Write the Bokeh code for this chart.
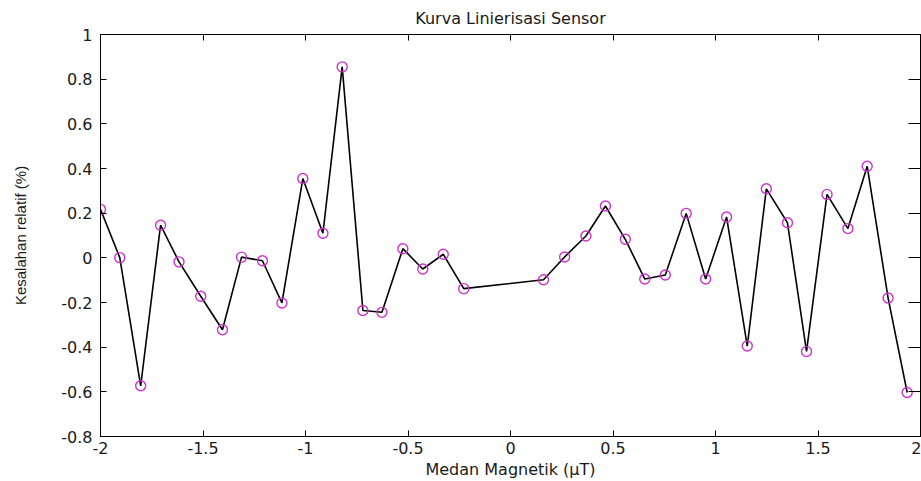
from bokeh.plotting import figure
from bokeh.models import LinearAxis, FixedTicker, Range1d
from bokeh.embed import file_html
from bokeh.resources import INLINE

# Data
medan = [-2.00, -1.906, -1.804, -1.707, -1.617, -1.511, -1.405, -1.312, -1.21, -1.115,
         -1.013, -0.915, -0.821, -0.720, -0.627, -0.525, -0.428, -0.328, -0.228,
         0.161, 0.264, 0.368, 0.463, 0.560, 0.655, 0.755, 0.857, 0.952, 1.054,
         1.155, 1.248, 1.351, 1.444, 1.544, 1.646, 1.740, 1.842, 1.935]
kesalahan = [0.217, 0.001, -0.573, 0.146, -0.018, -0.172, -0.322, 0.003, -0.013, -0.202,
             0.355, 0.110, 0.855, -0.236, -0.244, 0.041, -0.050, 0.016, -0.138,
             -0.098, 0.004, 0.098, 0.232, 0.083, -0.095, -0.077, 0.199, -0.095, 0.183,
             -0.395, 0.309, 0.157, -0.419, 0.284, 0.131, 0.410, -0.180, -0.603]

x_ticks = [-2, -1.5, -1, -0.5, 0, 0.5, 1, 1.5, 2]
x_tick_labels = ["-2", "-1.5", "-1", "-0.5", "0", "0.5", "1", "1.5", "2"]
y_ticks = [-0.8, -0.6, -0.4, -0.2, 0, 0.2, 0.4, 0.6, 0.8, 1]
y_tick_labels = ["-0.8", "-0.6", "-0.4", "-0.2", "0", "0.2", "0.4", "0.6", "0.8", "1"]

TXT = "#1a1a1a"
FONT = "DejaVu Sans"

p = figure(width=921, height=481,
           output_backend="svg", toolbar_location=None,
           x_range=Range1d(-2, 2), y_range=Range1d(-0.8, 1),
           x_axis_location=None, y_axis_location=None,
           min_border_left=100, min_border_right=1, min_border_top=33, min_border_bottom=44,
           background_fill_color="white", border_fill_color="white")

p.title.text = "Kurva Linierisasi Sensor"
p.title.align = "center"
p.title.text_font = FONT
p.title.text_font_size = "16px"
p.title.text_font_style = "normal"
p.title.text_color = TXT
p.title.standoff = 13

p.xgrid.visible = False
p.ygrid.visible = False
p.outline_line_color = "black"
p.outline_line_width = 1
p.outline_line_alpha = 1


def style_axis(ax, ticks, labels, show_labels):
    ax.ticker = FixedTicker(ticks=ticks)
    ax.minor_tick_line_color = None
    ax.major_tick_in = 6
    ax.major_tick_out = 0
    ax.major_tick_line_color = "black"
    ax.axis_line_color = "black"
    if show_labels:
        ax.major_label_overrides = {t: l for t, l in zip(ticks, labels)}
        ax.major_label_text_font = FONT
        ax.major_label_text_font_size = "16px"
        ax.major_label_text_color = TXT
    else:
        ax.major_label_text_font_size = "0px"
        ax.major_label_text_color = None
        ax.major_label_standoff = 0


xb = LinearAxis()
style_axis(xb, x_ticks, x_tick_labels, True)
xb.major_label_standoff = 5
xb.axis_label = "Medan Magnetik (\u00b5T)"
xb.axis_label_text_font = FONT
xb.axis_label_text_font_size = "16px"
xb.axis_label_text_font_style = "normal"
xb.axis_label_text_color = TXT
xb.axis_label_standoff = 3
p.add_layout(xb, "below")

yl = LinearAxis()
style_axis(yl, y_ticks, y_tick_labels, True)
yl.major_label_standoff = 8
yl.axis_label = "Kesalahan relatif (%)"
yl.axis_label_text_font = "Liberation Sans"
yl.axis_label_text_font_size = "15px"
yl.axis_label_text_font_style = "normal"
yl.axis_label_text_color = TXT
yl.axis_label_standoff = 29
p.add_layout(yl, "left")

xt = LinearAxis()
style_axis(xt, x_ticks, x_tick_labels, False)
p.add_layout(xt, "above")

yr = LinearAxis()
style_axis(yr, y_ticks, y_tick_labels, False)
yr.major_tick_in = 12
p.add_layout(yr, "right")

p.line(medan, kesalahan, line_color="black", line_width=1.6)
p.scatter(medan, kesalahan, marker="circle", size=10, fill_color=None,
          line_color="#cc33cc", line_width=1.4)

open("out.html", "w").write(file_html(p, INLINE))
